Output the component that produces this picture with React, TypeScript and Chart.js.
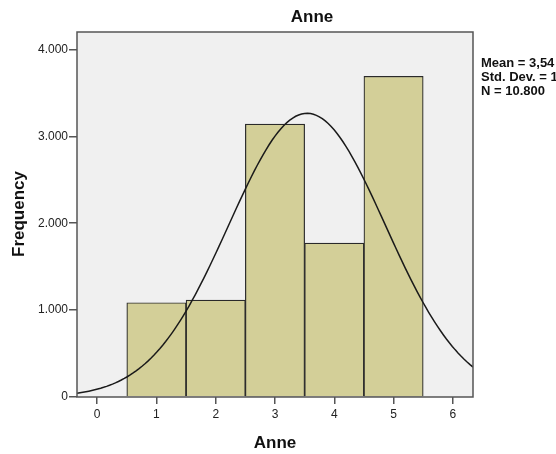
import React, { useEffect, useRef } from "react";
import { Chart, registerables } from "chart.js";

Chart.register(...registerables);

// Histogram bins (bin centres) and frequencies
const binCenters = [1, 2, 3, 4, 5];
const frequencies = [1085, 1115, 3140, 1770, 3690];

// Statistics shown in the side legend
const MEAN = 3.54;
const STD_DEV = 1.32;
const N = 10800;
const BIN_WIDTH = 1;

const statsLines = ["Mean = 3,54", "Std. Dev. = 1", "N = 10.800"];
const yTicks = [0, 1000, 2000, 3000, 4000];
const xTicks = [0, 1, 2, 3, 4, 5, 6];

const X_MIN = -0.34;
const X_MAX = 6.34;
const Y_MAX = 4200;

const FONT = "Arial, 'Liberation Sans', sans-serif";

// Fitted normal curve from the legend statistics
const curveXs: number[] = [];
for (let i = 0; i <= 134; i++) curveXs.push(X_MIN + (i * (X_MAX - X_MIN)) / 134);
const curvePoints = curveXs.map((x) => ({
  x,
  y:
    ((N * BIN_WIDTH) / (STD_DEV * Math.sqrt(2 * Math.PI))) *
    Math.exp(-0.5 * Math.pow((x - MEAN) / STD_DEV, 2)),
}));

const framePlugin = {
  id: "frame",
  beforeDatasetsDraw(chart: any) {
    const { ctx, chartArea: a } = chart;
    ctx.save();
    ctx.fillStyle = "#f0f0f0";
    ctx.fillRect(a.left, a.top, a.right - a.left, a.bottom - a.top);
    ctx.restore();
  },
  afterDraw(chart: any) {
    const { ctx, chartArea: a } = chart;
    ctx.save();
    ctx.strokeStyle = "#555555";
    ctx.lineWidth = 1.5;
    ctx.strokeRect(a.left, a.top, a.right - a.left, a.bottom - a.top);

    ctx.fillStyle = "#111111";
    ctx.font = `bold 17px ${FONT}`;
    ctx.textAlign = "center";
    ctx.textBaseline = "alphabetic";
    ctx.fillText("Anne", 312, 22);
    ctx.fillText("Anne", (a.left + a.right) / 2, 448);

    ctx.save();
    ctx.translate(24, 214);
    ctx.rotate(-Math.PI / 2);
    ctx.fillText("Frequency", 0, 0);
    ctx.restore();

    ctx.font = `bold 13px ${FONT}`;
    ctx.textAlign = "left";
    statsLines.forEach((t, i) => ctx.fillText(t, 481, 67 + i * 14));
    ctx.restore();
  },
};

export default function App() {
  const ref = useRef<HTMLCanvasElement | null>(null);

  useEffect(() => {
    if (!ref.current) return;
    const chart = new Chart(ref.current, {
      type: "bar",
      data: {
        datasets: [
          {
            type: "line",
            data: curvePoints,
            borderColor: "#1a1a1a",
            borderWidth: 1.5,
            pointRadius: 0,
            tension: 0,
            fill: false,
            order: 0,
          } as any,
          {
            type: "bar",
            data: binCenters.map((x, i) => ({ x, y: frequencies[i] })),
            backgroundColor: "#d3cf98",
            borderColor: "#2a2a2a",
            borderWidth: 1.2,
            barPercentage: 1,
            categoryPercentage: 1,
            order: 1,
          } as any,
        ],
      },
      options: {
        responsive: false,
        animation: false,
        layout: { padding: { left: 0, right: 83, top: 32, bottom: 0 } },
        plugins: {
          legend: { display: false },
          tooltip: { enabled: false },
          title: { display: false },
        },
        scales: {
          x: {
            type: "linear",
            min: X_MIN,
            max: X_MAX,
            offset: false,
            grid: {
              offset: false,
              drawOnChartArea: false,
              drawTicks: true,
              tickLength: 7,
              color: "#555555",
              lineWidth: 1.5,
            },
            border: { display: false },
            afterBuildTicks: (s: any) => {
              s.ticks = xTicks.map((v) => ({ value: v }));
            },
            afterFit: (s: any) => {
              s.height = 57;
            },
            ticks: {
              includeBounds: false,
              padding: 3,
              color: "#222222",
              font: { family: FONT, size: 12 },
              callback: (v: any) => String(v),
            },
          },
          y: {
            type: "linear",
            min: 0,
            max: Y_MAX,
            grid: {
              drawOnChartArea: false,
              drawTicks: true,
              tickLength: 8,
              color: "#555555",
              lineWidth: 1.5,
            },
            border: { display: false },
            afterBuildTicks: (s: any) => {
              s.ticks = yTicks.map((v) => ({ value: v }));
            },
            afterFit: (s: any) => {
              s.width = 77;
            },
            ticks: {
              includeBounds: false,
              padding: 1,
              color: "#222222",
              font: { family: FONT, size: 12 },
              callback: (v: any) => Number(v).toLocaleString("de-DE"),
            },
          },
        },
      },
      plugins: [framePlugin],
    });
    return () => chart.destroy();
  }, []);

  return (
    <div style={{ position: "fixed", left: 0, top: 0, width: 556, height: 454, background: "#ffffff" }}>
      <canvas ref={ref} width={556} height={454} style={{ display: "block" }} />
    </div>
  );
}
